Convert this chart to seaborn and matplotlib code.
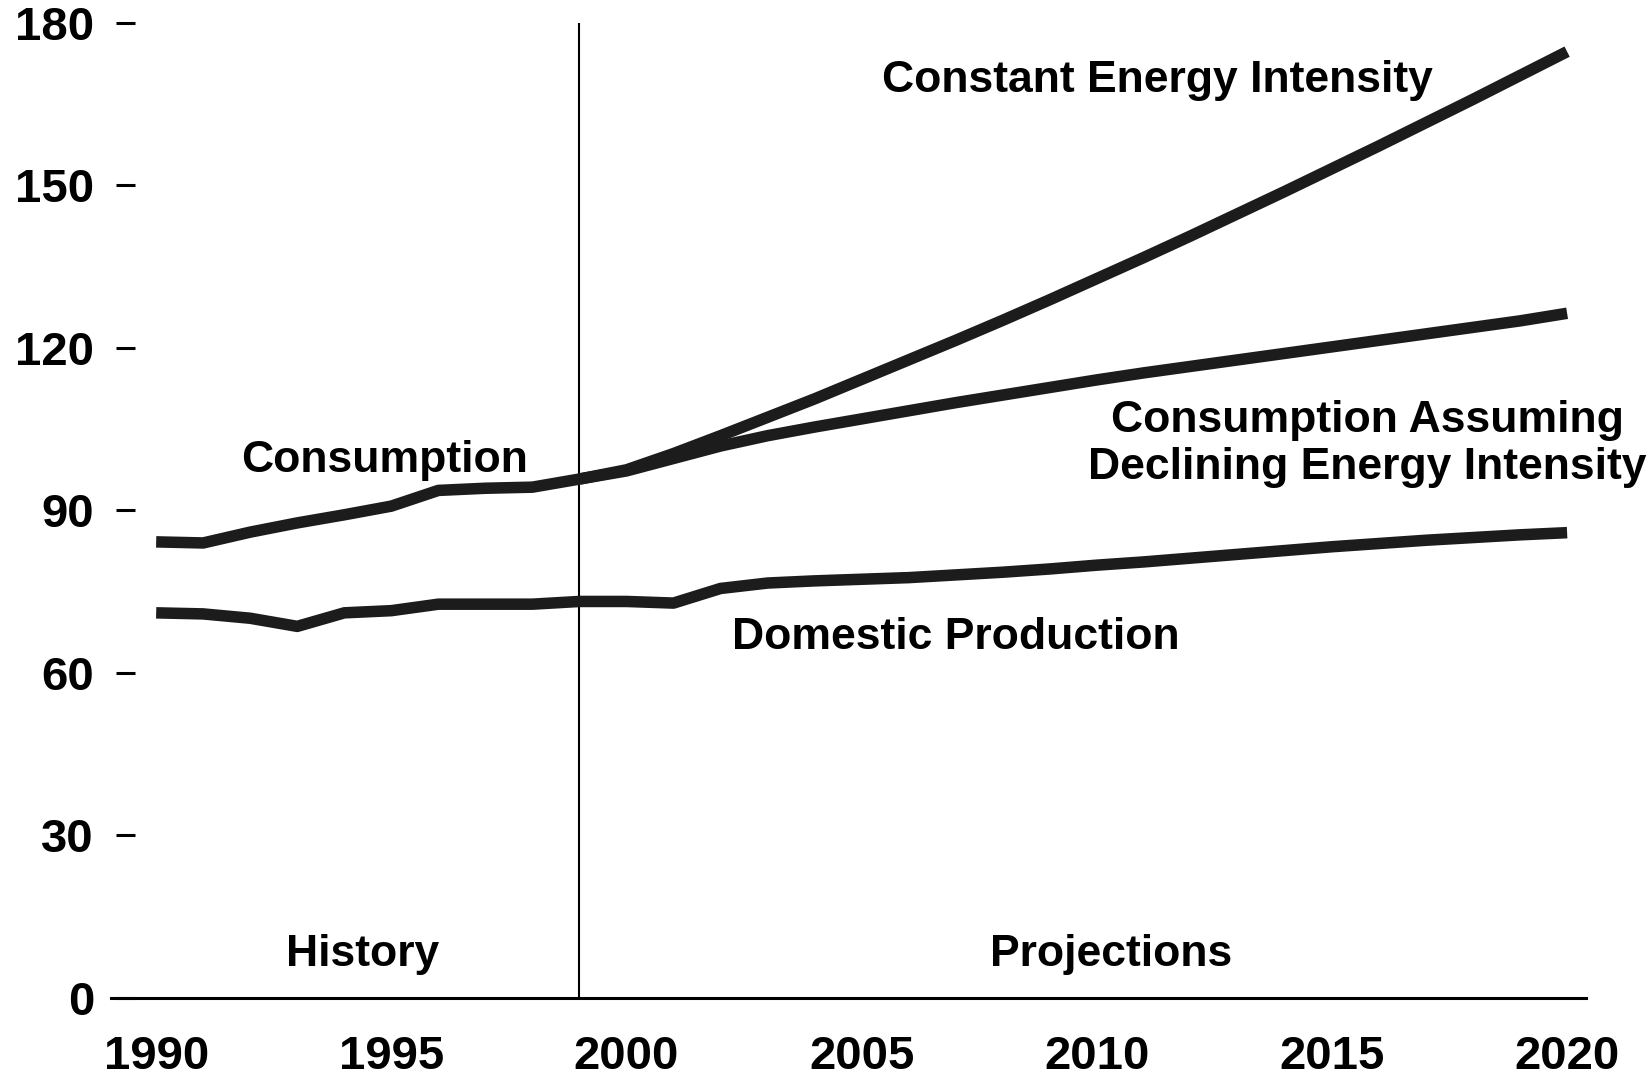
import numpy as np
import pandas as pd
import matplotlib
matplotlib.use("Agg")
import matplotlib.pyplot as plt
import seaborn as sns

# ---- data ----
hist_years = list(range(1990, 2000))
consumption_hist = [84.2, 84.0, 86.0, 87.7, 89.2, 90.8, 93.7, 94.1, 94.3, 95.8]

proj_years = list(range(1999, 2021))
constant_intensity = [95.8, 97.5, 100.5, 103.8, 107.2, 110.6, 114.2, 117.8, 121.4, 125.1,
                      128.9, 132.8, 136.7, 140.7, 144.8, 148.9, 153.1, 157.3, 161.6,
                      165.9, 170.3, 174.7]
declining_intensity = [95.8, 97.3, 99.6, 101.9, 103.8, 105.4, 106.9, 108.4, 109.9, 111.3,
                       112.7, 114.1, 115.4, 116.6, 117.8, 119.0, 120.2, 121.4, 122.6,
                       123.8, 125.0, 126.4]

prod_years = list(range(1990, 2021))
domestic_production = [71.1, 70.9, 70.1, 68.6, 71.1, 71.5, 72.7, 72.7, 72.7, 73.2, 73.2,
                       72.9, 75.6, 76.6, 77.0, 77.3, 77.6, 78.1, 78.6, 79.2, 79.9,
                       80.5, 81.2, 81.9, 82.6, 83.3, 83.9, 84.5, 85.0, 85.5, 85.9]

y_ticks = [0, 30, 60, 90, 120, 150, 180]
x_ticks = [1990, 1995, 2000, 2005, 2010, 2015, 2020]
divider_year = 1999

labels = {
    "Constant Energy Intensity": (2011.3, 169.3),
    "Consumption": (1994.85, 99.3),
    "Consumption Assuming\nDeclining Energy Intensity": (2015.75, 102.3),
    "Domestic Production": (2007.0, 66.6),
    "History": (1994.4, 8.0),
    "Projections": (2010.3, 8.0),
}

# ---- style ----
sns.set_theme(style="white")
plt.rcParams["font.family"] = ["Liberation Sans", "DejaVu Sans"]
plt.rcParams["font.weight"] = "bold"

fig = plt.figure(figsize=(16.52, 10.92), dpi=100)
ax = fig.add_axes([0.0672, 0.0861, 0.8928, 0.8929])

line_color = "#1c1c1c"
lw = 8.3

series = [
    (hist_years, consumption_hist),
    (proj_years, constant_intensity),
    (proj_years, declining_intensity),
    (prod_years, domestic_production),
]
for xs, ys in series:
    sns.lineplot(x=xs, y=ys, ax=ax, color=line_color, linewidth=lw,
                 solid_capstyle="butt", solid_joinstyle="round", clip_on=False)

ax.vlines(divider_year, 0, 180, color="black", linewidth=1.5, zorder=1)

for s in ["top", "right"]:
    ax.spines[s].set_visible(False)
ax.spines["left"].set_position(("outward", -17.3))
ax.spines["left"].set_visible(False)
ax.spines["bottom"].set_color("black")
ax.spines["bottom"].set_linewidth(2.2)

ax.set_xlim(1989.04, 2020.4)
ax.set_ylim(0, 180)

ax.set_xticks(x_ticks)
ax.set_xticklabels([str(v) for v in x_ticks], fontsize=34, fontweight="bold", color="black")
ax.set_yticks(y_ticks)
ax.set_yticklabels([str(v) for v in y_ticks], fontsize=34, fontweight="bold", color="black")

ax.tick_params(axis="y", direction="out", length=13.5, width=2.2, color="black",
               pad=16, left=True, labelsize=34, labelcolor="black")
ax.tick_params(axis="x", length=0, pad=27, labelsize=34, labelcolor="black")

for txt, (x, y) in labels.items():
    ax.text(x, y, txt, ha="center", va="center", fontsize=32, fontweight="bold",
            color="black", linespacing=1.2, clip_on=False)

ax.set_xlabel("")
ax.set_ylabel("")
fig.savefig("out.png", dpi=100)
